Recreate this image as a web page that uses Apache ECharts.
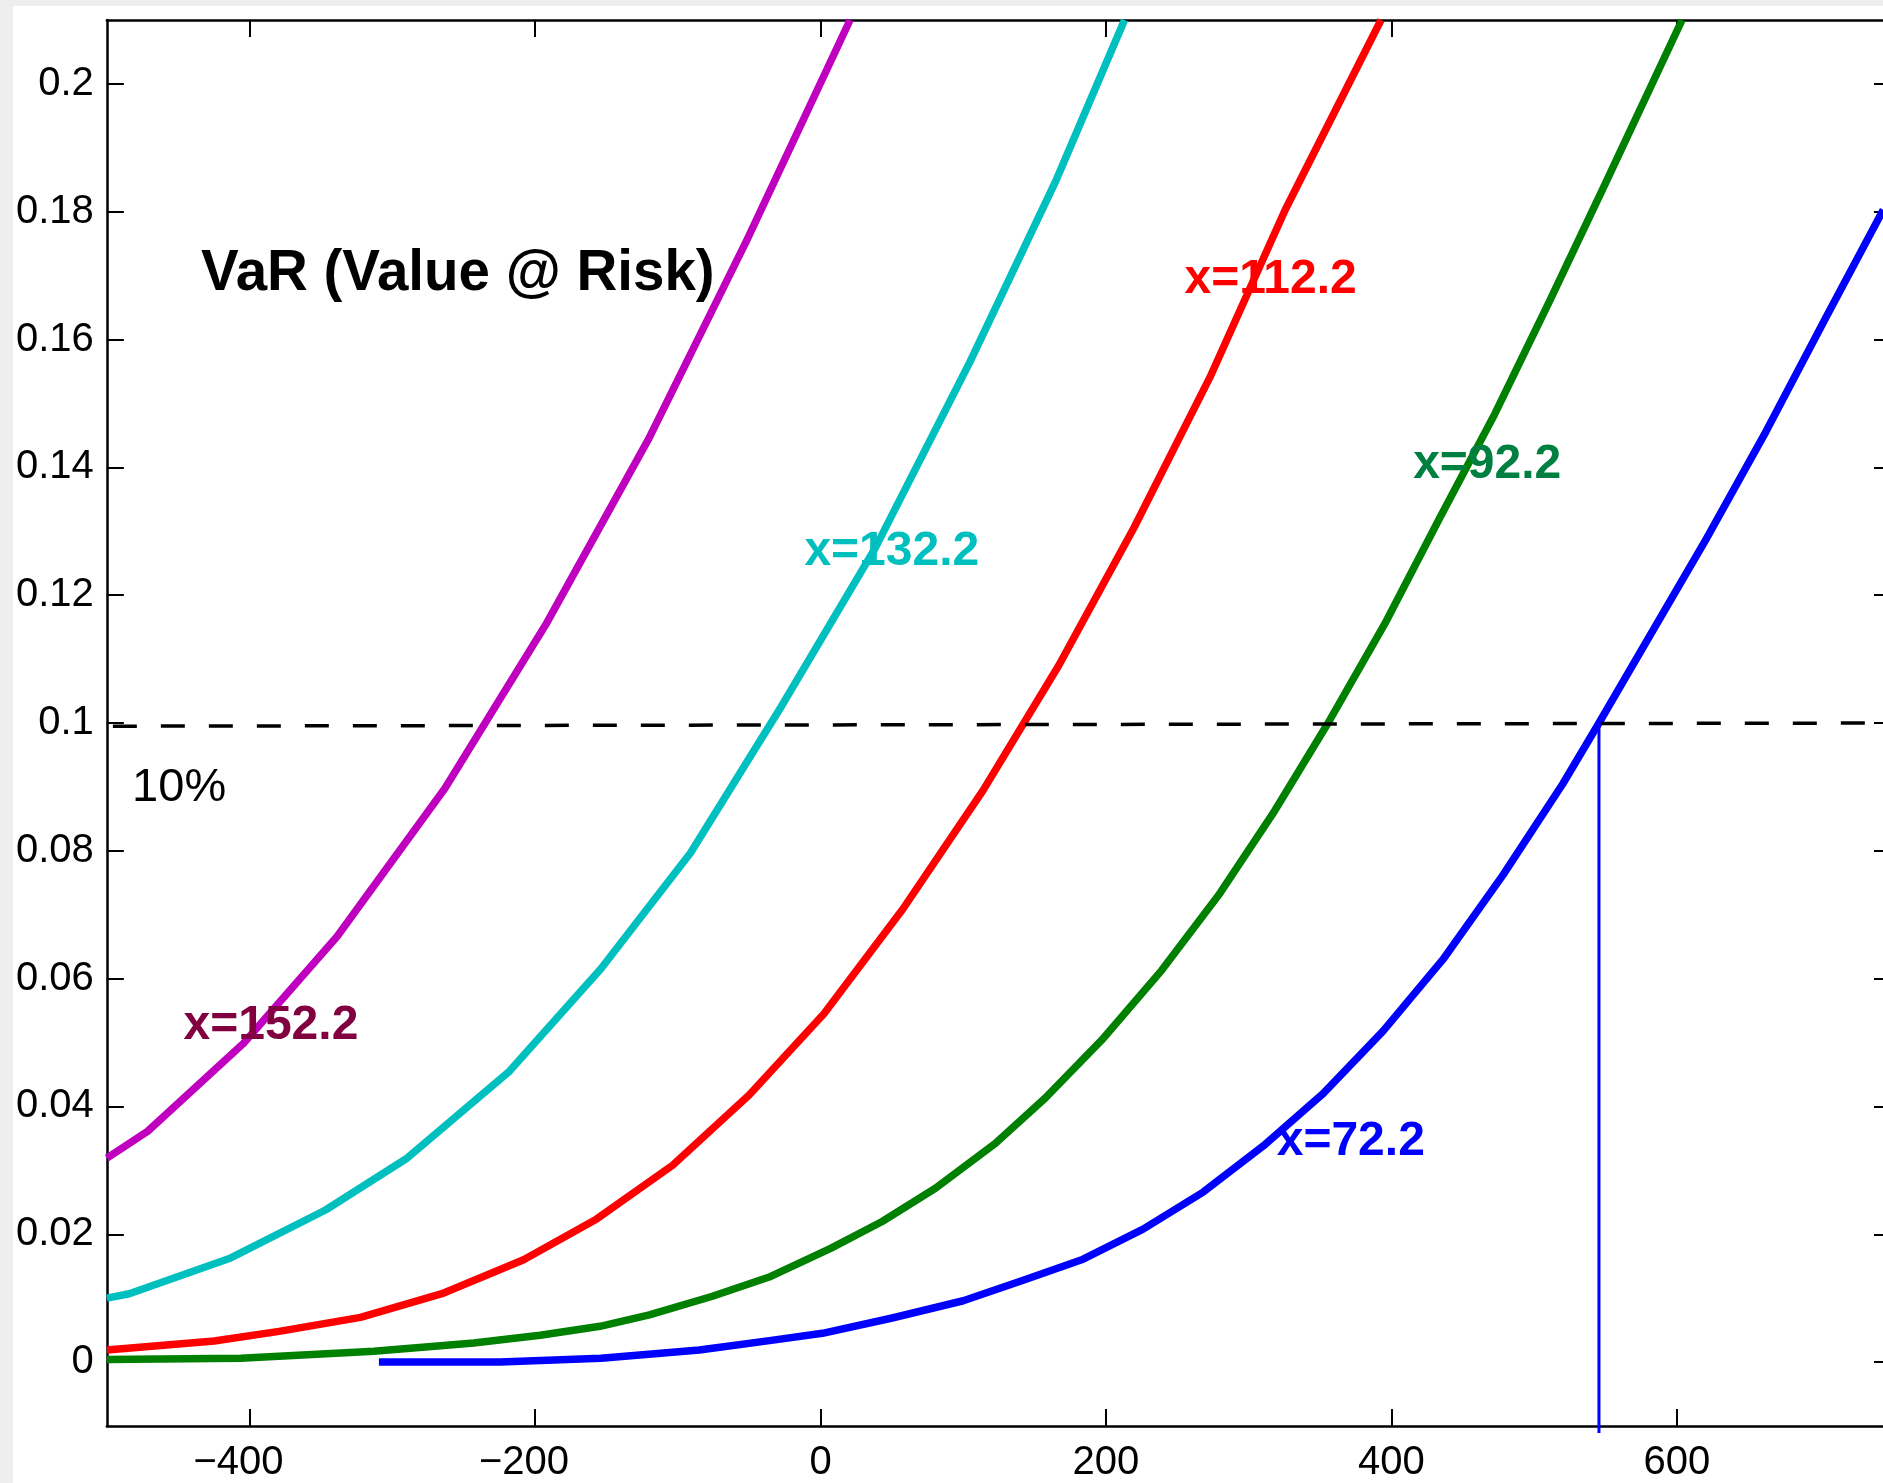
<!DOCTYPE html>
<html>
<head>
<meta charset="utf-8">
<script src="https://cdn.jsdelivr.net/npm/echarts@6/dist/echarts.min.js"></script>
<style>
  html, body { margin: 0; padding: 0; background: #eeeeee; width: 1883px; height: 1483px; overflow: hidden; }
  #chart { position: absolute; left: 13px; top: 6px; width: 1878px; height: 1477px; background: #ffffff; }
</style>
</head>
<body>
<div id="chart"></div>
<script>
// ---- tick labels ----
const xTicks = [-400, -200, 0, 200, 400, 600];
const yTicks = [0, 0.02, 0.04, 0.06, 0.08, 0.1, 0.12, 0.14, 0.16, 0.18, 0.2];

// ---- curve x=152.2 (magenta) ----
const magX = [-500, -471.5, -404.2, -338.7, -263.1, -191.7, -120.3, -51.5, 20.7];
const magY = [0.0319, 0.0361, 0.0499, 0.0666, 0.0898, 0.1157, 0.1445, 0.1756, 0.2100];

// ---- curve x=132.2 (cyan) ----
const cyanX = [-500, -484.3, -413.2, -346.8, -289.7, -218.0, -154.0, -91.0, -28.0, 38.4, 104.7, 165.2, 213.0];
const cyanY = [0.0100, 0.0107, 0.0163, 0.0238, 0.0319, 0.0455, 0.0615, 0.0797, 0.1024, 0.1274, 0.1565, 0.1850, 0.2100];

// ---- curve x=112.2 (red) ----
const redX = [-500, -424.8, -379.4, -322.3, -264.0, -208.0, -156.8, -103.6, -50.0, 2.4, 57.7, 114.0, 166.9, 219.7, 273.5, 325.6, 392.7];
const redY = [0.0019, 0.0033, 0.0048, 0.0070, 0.0108, 0.0160, 0.0224, 0.0308, 0.0418, 0.0545, 0.0709, 0.0895, 0.1090, 0.1306, 0.1544, 0.1803, 0.2100];

// ---- curve x=92.2 (green) ----
const greenX = [-500, -406.2, -312.9, -243.0, -196.4, -154.5, -119.9, -75.7, -34.9, 7.1, 43.2, 80.5, 122.4, 157.4, 197.1, 239.0, 278.7, 318.3, 355.6, 395.3, 433.9, 472.5, 511.2, 549.0, 603.6];
const greenY = [0.0004, 0.0006, 0.0017, 0.0030, 0.0042, 0.0056, 0.0074, 0.0103, 0.0134, 0.0178, 0.0220, 0.0272, 0.0342, 0.0413, 0.0504, 0.0613, 0.0730, 0.0863, 0.1000, 0.1155, 0.1321, 0.1484, 0.1662, 0.1840, 0.2100];

// ---- curve x=72.2 (blue) ----
const blueX = [-309.4, -224.4, -153.8, -84.9, -34.5, 1.3, 50.2, 100.0, 142.0, 184.0, 226.0, 268.1, 310.1, 352.1, 394.1, 436.1, 478.1, 520.1, 545.4, 620.3, 662.4, 704.3, 744.6];
const blueY = [0.0000, 0.0000, 0.0006, 0.0019, 0.0034, 0.0045, 0.0069, 0.0096, 0.0128, 0.0161, 0.0208, 0.0266, 0.0338, 0.0420, 0.0518, 0.0630, 0.0762, 0.0905, 0.1000, 0.1287, 0.1456, 0.1634, 0.1803];

// ---- 10% threshold (dashed) and VaR drop line ----
const levelX = [-500, 750];
const levelY = [0.0995, 0.1000];
const varX = [545.4, 545.4];
const varY = [0.1000, -0.0111];

// ---- text annotations (data coordinates of left edge / vertical middle) ----
const noteText = ['VaR (Value @ Risk)', '10%', 'x=152.2', 'x=132.2', 'x=112.2', 'x=92.2', 'x=72.2'];
const noteX = [-434.0, -482.3, -446.3, -11.3, 255.0, 415.2, 319.6];
const noteY = [0.1702, 0.0898, 0.0527, 0.1268, 0.1694, 0.1404, 0.0345];

const FONT = '"Liberation Sans", Arial, Helvetica, sans-serif';
const zip = (xs, ys) => xs.map((x, i) => [x, ys[i]]);

const noteStyles = [
  { color: '#000000', fontSize: 56.5, fontWeight: 'bold' },
  { color: '#000000', fontSize: 47, fontWeight: 'normal' },
  { color: '#800040', fontSize: 48, fontWeight: 'bold' },
  { color: '#00BFBF', fontSize: 48, fontWeight: 'bold' },
  { color: '#FF0000', fontSize: 48, fontWeight: 'bold' },
  { color: '#008040', fontSize: 48, fontWeight: 'bold' },
  { color: '#0000FF', fontSize: 48, fontWeight: 'bold' }
];

// negative labels: true minus, digits stay centred on the tick (minus hangs left)
const fmtX = v => (v < 0 ? '\u2212' + Math.abs(v) + '\u2007' : String(v));
const fmtY = v => String(+(+v).toFixed(2));

function xAxisDef(pos, showLabel) {
  return {
    type: 'value', position: pos, min: -500, max: 750,
    axisLine: { show: true, onZero: false, lineStyle: { color: '#000', width: 2.5 } },
    axisTick: { show: true, inside: true, length: 17, customValues: xTicks, lineStyle: { color: '#000', width: 2 } },
    axisLabel: { show: showLabel, customValues: xTicks, formatter: fmtX, fontSize: 40, fontFamily: FONT, color: '#000', margin: 17 },
    splitLine: { show: false }
  };
}
function yAxisDef(pos, showLabel) {
  return {
    type: 'value', position: pos, min: -0.01, max: 0.21,
    axisLine: { show: true, onZero: false, lineStyle: { color: '#000', width: 2.5 } },
    axisTick: { show: true, inside: true, length: 17, customValues: yTicks, lineStyle: { color: '#000', width: 2 } },
    axisLabel: { show: showLabel, customValues: yTicks, formatter: fmtY, fontSize: 40, fontFamily: FONT, color: '#000', margin: 13 },
    splitLine: { show: false }
  };
}

function curve(xs, ys, color, width, extra) {
  return Object.assign({
    type: 'line', data: zip(xs, ys), showSymbol: false, symbol: 'none', smooth: false,
    lineStyle: { color: color, width: width, cap: 'butt', join: 'round', opacity: 1 },
    itemStyle: { color: color }, silent: true, animation: false, z: 3
  }, extra || {});
}

const chart = echarts.init(document.getElementById('chart'), null, { renderer: 'canvas' });
chart.setOption({
  backgroundColor: '#ffffff',
  animation: false,
  grid: { left: 91, top: 14, right: 0, bottom: 55, containLabel: false },
  xAxis: [xAxisDef('bottom', true), xAxisDef('top', false)],
  yAxis: [yAxisDef('left', true), yAxisDef('right', false)],
  series: [
    curve(magX, magY, '#BF00BF', 7.5),
    curve(cyanX, cyanY, '#00BFBF', 7.5),
    curve(redX, redY, '#FF0000', 7.5),
    curve(greenX, greenY, '#008000', 7.5),
    curve(blueX, blueY, '#0000FF', 7.5),
    curve(varX, varY, '#0000FF', 3, { clip: false }),
    curve(levelX, levelY, '#000000', 3.5, { z: 4, lineStyle: { color: '#000', width: 3.5, type: [24, 24], dashOffset: 42, cap: 'butt', opacity: 1 } }),
    {
      type: 'scatter', z: 10, silent: true, animation: false, symbolSize: 0.01,
      itemStyle: { opacity: 1 },
      data: noteText.map((t, i) => ({
        value: [noteX[i], noteY[i]],
        label: Object.assign({
          show: true, formatter: t, position: 'right', distance: 0, opacity: 1,
          fontFamily: FONT, align: 'left', verticalAlign: 'middle'
        }, noteStyles[i])
      }))
    }
  ]
});
</script>
</body>
</html>
